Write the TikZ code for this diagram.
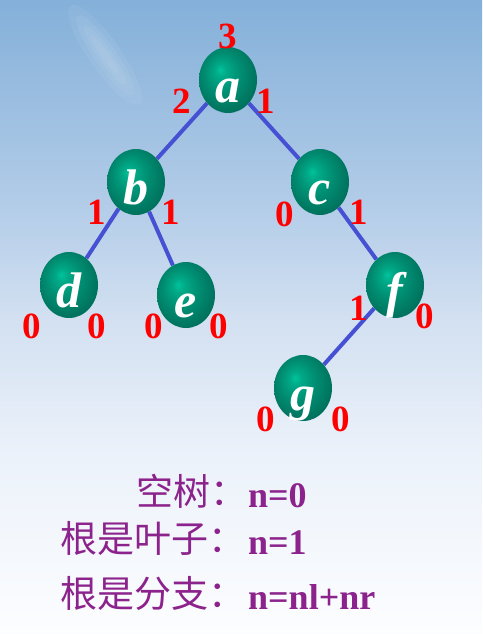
\documentclass[tikz,border=0pt]{standalone}
\usepackage{fontspec}
\setmainfont{Liberation Serif}
\newfontfamily\cjk{Noto Sans CJK SC}
\usetikzlibrary{shapes.geometric,backgrounds}
\definecolor{edgeblue}{RGB}{70,80,210}
\definecolor{numred}{RGB}{255,0,0}
\definecolor{txtpurple}{RGB}{140,34,140}
\definecolor{nodeA}{RGB}{0,196,156}
\definecolor{nodeAB}{RGB}{0,170,136}
\definecolor{nodeB}{RGB}{0,142,114}
\definecolor{nodeC}{RGB}{0,104,86}
\definecolor{skyA}{RGB}{252,253,255}
\definecolor{skyB}{RGB}{236,242,250}
\definecolor{skyC}{RGB}{210,224,241}
\definecolor{skyD}{RGB}{178,204,232}
\definecolor{skyE}{RGB}{132,176,217}
\pgfdeclareradialshading{nodeball}{\pgfpoint{-7bp}{8bp}}{color(0bp)=(nodeA); color(5bp)=(nodeAB); color(15bp)=(nodeB); color(32bp)=(nodeC); color(45bp)=(nodeC)}
\pgfdeclareverticalshading{sky}{100bp}{color(0bp)=(skyA); color(25bp)=(skyA); color(39bp)=(skyB); color(50bp)=(skyC); color(59bp)=(skyD); color(75bp)=(skyE); color(100bp)=(skyE)}
\tikzset{
  tnode/.style={ellipse, minimum width=58pt, minimum height=66pt, inner sep=0pt,
    shading=nodeball, text=white, font=\fontsize{50}{50}\selectfont\bfseries\itshape,
    text height=44pt, text depth=0pt},
  num/.style={text=numred, font=\fontsize{37}{37}\selectfont\bfseries, inner sep=0pt},
  tedge/.style={draw=edgeblue, line width=4pt},
  cn/.style={text=txtpurple, font=\fontsize{37}{37}\selectfont\cjk, inner sep=0pt, anchor=base west},
  lt/.style={text=txtpurple, font=\fontsize{36}{36}\selectfont\bfseries, inner sep=0pt, anchor=base west},
  cloud streak/.style={white, opacity=0.06}
}
\begin{document}
\begin{tikzpicture}[x=1pt,y=-1pt]
\useasboundingbox (0,0) rectangle (482,634);
% nodes
\node[tnode] (a) at (228,80) {a};
\node[tnode] (b) at (136,182) {b};
\node[tnode] (c) at (320,182) {c};
\node[tnode] (d) at (69,285) {d};
\node[tnode] (e) at (186,295) {e};
\node[tnode] (f) at (395,285) {f};
\node[tnode] (g) at (303,388) {g};
% edges and background
\begin{pgfonlayer}{background}
\fill[shading=sky] (0,0) rectangle (482,634);
\foreach \r/\s in {60/16,48/11,36/7,24/4}{
  \fill[cloud streak, rotate around={-55:(105,55)}] (105,55) ellipse (\r pt and \s pt);
}
\draw[tedge] (a) -- (b);
\draw[tedge] (a) -- (c);
\draw[tedge] (b) -- (d);
\draw[tedge] (b) -- (e);
\draw[tedge] (c) -- (f);
\draw[tedge] (f) -- (g);
\end{pgfonlayer}
% labels
\node[num] (la) at (228,36) {3};
\node[num] (la1) at (182,101) {2};
\node[num] (la2) at (266,101) {1};
\node[num] (lb1) at (97,212) {1};
\node[num] (lb2) at (171,212) {1};
\node[num] (lc1) at (285,214) {0};
\node[num] (lc2) at (359,212) {1};
\node[num] (ld1) at (32,326) {0};
\node[num] (ld2) at (97,326) {0};
\node[num] (le1) at (154,326) {0};
\node[num] (le2) at (219,326) {0};
\node[num] (lf1) at (359,308) {1};
\node[num] (lf2) at (425,316) {0};
\node[num] (lg1) at (266,419) {0};
\node[num] (lg2) at (341,419) {0};
% text
\node[cn] (t1) at (136,505) {空树：};
\node[lt] (n1) at (248,507) {n=0};
\node[cn] (t2) at (60,552) {根是叶子：};
\node[lt] (n2) at (248,554) {n=1};
\node[cn] (t3) at (60,607) {根是分支：};
\node[lt] (n3) at (248,609) {n=nl+nr};
\end{tikzpicture}
\end{document}
